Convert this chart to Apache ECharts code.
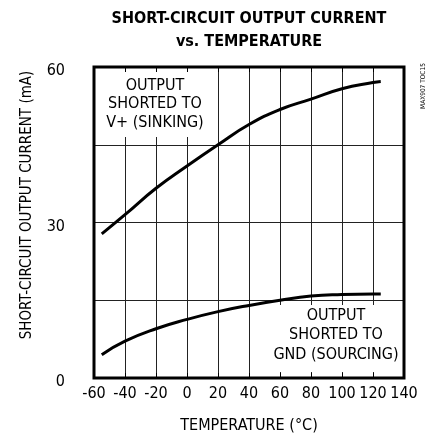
<!DOCTYPE html>
<html>
<head>
<meta charset="utf-8">
<script src="https://cdn.jsdelivr.net/npm/echarts@6/dist/echarts.min.js"></script>
<style>
html,body{margin:0;padding:0;background:#fff;}
#chart{width:429px;height:436px;}
</style>
</head>
<body>
<div id="chart"></div>
<script>
// ---- data ----
var temperatures = [-55, -40, -20, 0, 20, 40, 60, 80, 100, 120, 125];
var sinkingCurrent = [27.8, 31.5, 36.6, 40.9, 45.0, 48.9, 51.8, 53.8, 55.8, 57.0, 57.2];
var sourcingCurrent = [4.5, 7.1, 9.5, 11.3, 12.8, 14.0, 15.0, 15.8, 16.1, 16.2, 16.2];
var xTicks = [-60, -40, -20, 0, 20, 40, 60, 80, 100, 120, 140];
var yTickLabels = [0, 30, 60];

var FONT = '"DejaVu Sans Condensed", "Liberation Sans", sans-serif';

function pairs(xs, ys) { return xs.map(function (x, i) { return [x, ys[i]]; }); }

var chart = echarts.init(document.getElementById('chart'), null, { renderer: 'canvas' });

var xBase = { type: 'value', min: xTicks[0], max: xTicks[xTicks.length - 1], interval: 20, gridIndex: 0 };

chart.setOption({
  animation: false,
  backgroundColor: '#fff',
  grid: { left: 94, right: 25, top: 67, bottom: 58, show: true, z: 6, borderColor: '#000', borderWidth: 3, backgroundColor: 'transparent' },
  xAxis: [
    Object.assign({}, xBase, {
      position: 'bottom', z: 0,
      axisLine: { show: false }, axisTick: { show: false },
      splitLine: { show: true, lineStyle: { color: '#222', width: 1 } },
      axisLabel: { show: true, margin: 8, color: '#000', fontSize: 16, fontFamily: FONT }
    }),
    Object.assign({}, xBase, {
      position: 'bottom', z: 7,
      axisLine: { show: false }, splitLine: { show: false }, axisLabel: { show: false },
      axisTick: { show: true, inside: true, length: 5, lineStyle: { color: '#000', width: 1 } }
    }),
    Object.assign({}, xBase, {
      position: 'top', z: 7,
      axisLine: { show: false }, splitLine: { show: false }, axisLabel: { show: false },
      axisTick: { show: true, inside: true, length: 5, lineStyle: { color: '#000', width: 1 } }
    })
  ],
  yAxis: [{
    type: 'value', min: 0, max: 60, interval: 15, z: 0,
    axisLine: { show: false }, axisTick: { show: false },
    splitLine: { show: true, lineStyle: { color: '#222', width: 1 } },
    axisLabel: {
      show: true, margin: 29, color: '#000', fontSize: 16, fontFamily: FONT,
      verticalAlign: 'top', lineHeight: 8,
      formatter: function (v) { return yTickLabels.indexOf(v) >= 0 ? String(v) : ''; }
    }
  }],
  series: [
    {
      type: 'line', name: 'sinking', xAxisIndex: 0, yAxisIndex: 0, z: 4,
      data: pairs(temperatures, sinkingCurrent), smooth: 0.5, showSymbol: false,
      lineStyle: { color: '#000', width: 3 }
    },
    {
      type: 'line', name: 'sourcing', xAxisIndex: 0, yAxisIndex: 0, z: 4,
      data: pairs(temperatures, sourcingCurrent), smooth: 0.5, showSymbol: false,
      lineStyle: { color: '#000', width: 3 }
    }
  ],
  graphic: [
    { type: 'text', x: 249, y: 30, z: 10, style: { text: 'SHORT-CIRCUIT OUTPUT CURRENT\nvs. TEMPERATURE', font: 'bold 16px ' + FONT, fill: '#000', align: 'center', verticalAlign: 'middle', lineHeight: 23 } },
    { type: 'rect', z: 1, shape: { x: 100, y: 71, width: 110, height: 66 }, style: { fill: '#fff' } },
    { type: 'rect', z: 1, shape: { x: 270, y: 305, width: 131, height: 67 }, style: { fill: '#fff' } },
    { type: 'text', x: 155, y: 104, z: 2, style: { text: 'OUTPUT\nSHORTED TO\nV+ (SINKING)', font: '16px ' + FONT, fill: '#000', align: 'center', verticalAlign: 'middle', lineHeight: 18.5 } },
    { type: 'text', x: 336, y: 335, z: 2, style: { text: 'OUTPUT\nSHORTED TO\nGND (SOURCING)', font: '16px ' + FONT, fill: '#000', align: 'center', verticalAlign: 'middle', lineHeight: 19.5 } },
    { type: 'text', x: 249, y: 426, z: 10, style: { text: 'TEMPERATURE (°C)', font: '16px ' + FONT, fill: '#000', align: 'center', verticalAlign: 'middle' } },
    { type: 'text', x: 27, y: 205, rotation: Math.PI / 2, z: 10, style: { text: 'SHORT-CIRCUIT OUTPUT CURRENT (mA)', font: '15px ' + FONT, fill: '#000', align: 'center', verticalAlign: 'middle' } },
    { type: 'text', x: 423.5, y: 86, rotation: Math.PI / 2, z: 10, style: { text: 'MAX907 TOC15', font: '6.5px ' + FONT, fill: '#000', align: 'center', verticalAlign: 'middle' } }
  ]
});
</script>
</body>
</html>
